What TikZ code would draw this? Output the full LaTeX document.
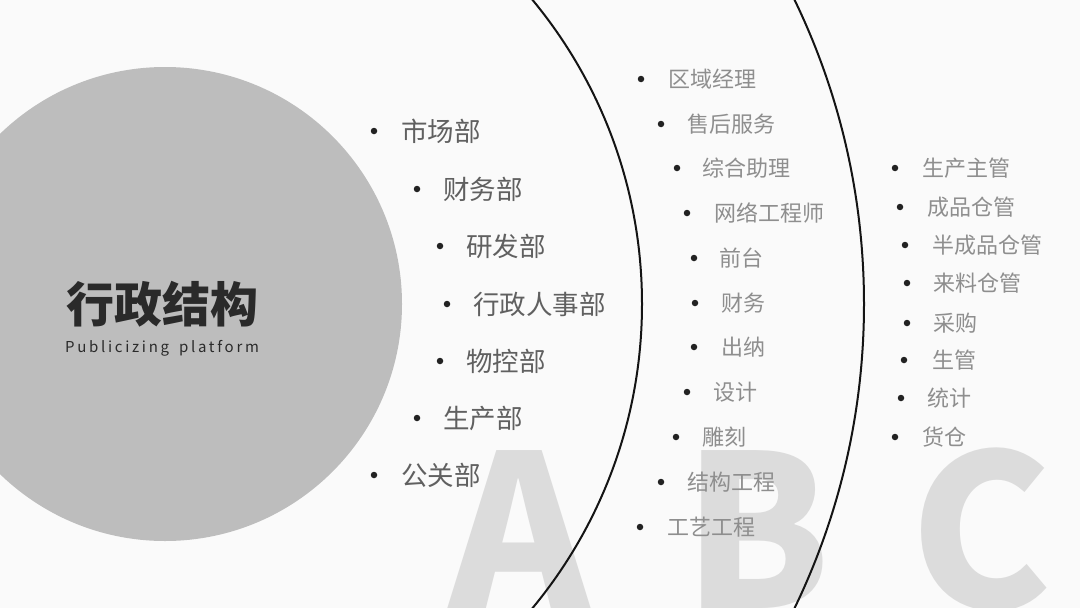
\documentclass[tikz,border=0pt]{standalone}
\usepackage{fontspec}
\newfontfamily\cjk{Noto Sans CJK SC}
\newfontfamily\cjkls[LetterSpace=18]{Noto Sans CJK SC}
\definecolor{bgc}{HTML}{FAFAFA}
\definecolor{discc}{HTML}{BDBDBD}
\definecolor{bigc}{HTML}{DCDCDC}
\definecolor{titlec}{HTML}{2A2A2A}
\definecolor{colA}{HTML}{606060}
\definecolor{colB}{HTML}{8E8E8E}
\definecolor{bulc}{HTML}{222222}
\tikzset{
  bul/.style={circle,fill=bulc,inner sep=0pt,minimum size=6.5pt},
  itemA/.style={anchor=base west,inner sep=0pt,text=colA,font=\cjk\fontsize{26.5}{30}\selectfont},
  itemB/.style={anchor=base west,inner sep=0pt,text=colB,font=\cjk\fontsize{22}{26}\selectfont},
  big/.style={anchor=base,inner sep=0pt,text=bigc,font=\cjk\bfseries\fontsize{212}{220}\selectfont},
  ring/.style={draw=black!92,line width=2pt},
}
\begin{document}
\begin{tikzpicture}[x=1pt,y=-1pt]
\useasboundingbox (0,0) rectangle (1080,608);
\fill[bgc] (0,0) rectangle (1080,608);
\begin{scope}
\clip (0,0) rectangle (1080,608);
\fill[discc] (165,304) circle[radius=237];
\node[big] (bigA) at (519,608) {A};
\node[big] (bigB) at (757,608) {B};
\node[big] (bigC) at (981,608) {C};
\draw[ring] (165,304) circle[radius=477];
\draw[ring] (165,304) circle[radius=699];
\end{scope}
% title
\node[anchor=base west,inner sep=0pt,text=titlec,font=\cjk\bfseries\fontsize{48}{52}\selectfont] (title) at (66,322) {行政结构};
\node[anchor=base west,inner sep=0pt,text=titlec,font=\cjkls\fontsize{15}{18}\selectfont] (sub) at (65,352) {Publicizing\hspace*{10pt}platform};
% column A
\node[bul] (ba1) at (374,131) {}; \node[itemA] (ta1) at (401,141) {市场部};
\node[bul] (ba2) at (417,189) {}; \node[itemA] (ta2) at (443,199) {财务部};
\node[bul] (ba3) at (440,246) {}; \node[itemA] (ta3) at (466,256) {研发部};
\node[bul] (ba4) at (447,304) {}; \node[itemA] (ta4) at (473,314) {行政人事部};
\node[bul] (ba5) at (440,361) {}; \node[itemA] (ta5) at (466,371) {物控部};
\node[bul] (ba6) at (417,418) {}; \node[itemA] (ta6) at (443,428) {生产部};
\node[bul] (ba7) at (374,475) {}; \node[itemA] (ta7) at (401,485) {公关部};
% column B
\node[bul] (bb1) at (641,79) {};  \node[itemB] (tb1) at (668,87.4) {区域经理};
\node[bul] (bb2) at (661,124) {}; \node[itemB] (tb2) at (687,132.4) {售后服务};
\node[bul] (bb3) at (677,168) {}; \node[itemB] (tb3) at (702,176.4) {综合助理};
\node[bul] (bb4) at (687,213) {}; \node[itemB] (tb4) at (714,221.4) {网络工程师};
\node[bul] (bb5) at (694,258) {}; \node[itemB] (tb5) at (719,266.4) {前台};
\node[bul] (bb6) at (695,303) {}; \node[itemB] (tb6) at (721,311.4) {财务};
\node[bul] (bb7) at (694,347) {}; \node[itemB] (tb7) at (721,355.4) {出纳};
\node[bul] (bb8) at (687,392) {}; \node[itemB] (tb8) at (713,400.4) {设计};
\node[bul] (bb9) at (676,437) {}; \node[itemB] (tb9) at (702,445.4) {雕刻};
\node[bul] (bb10) at (661,482) {}; \node[itemB] (tb10) at (687,490.4) {结构工程};
\node[bul] (bb11) at (640,527) {}; \node[itemB] (tb11) at (667,535.4) {工艺工程};
% column C
\node[bul] (bc1) at (895,168) {}; \node[itemB] (tc1) at (922,176.4) {生产主管};
\node[bul] (bc2) at (900,207) {}; \node[itemB] (tc2) at (927,215.4) {成品仓管};
\node[bul] (bc3) at (905,245) {}; \node[itemB] (tc3) at (932,253.4) {半成品仓管};
\node[bul] (bc4) at (907,283) {}; \node[itemB] (tc4) at (933,291.4) {来料仓管};
\node[bul] (bc5) at (907,323) {}; \node[itemB] (tc5) at (933,331.4) {采购};
\node[bul] (bc6) at (904,360) {}; \node[itemB] (tc6) at (932,368.4) {生管};
\node[bul] (bc7) at (901,398) {}; \node[itemB] (tc7) at (927,406.4) {统计};
\node[bul] (bc8) at (895,437) {}; \node[itemB] (tc8) at (922,445.4) {货仓};
\end{tikzpicture}
\end{document}
